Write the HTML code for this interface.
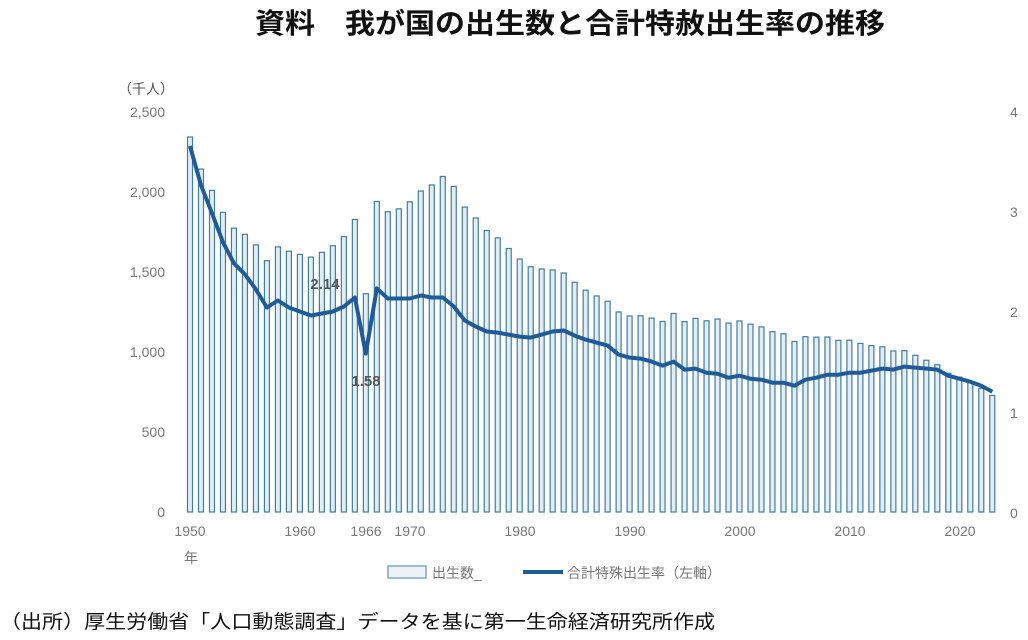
<!DOCTYPE html>
<html><head><meta charset="utf-8"><style>
body{margin:0;background:#fff;width:1028px;height:635px;overflow:hidden;font-family:"Liberation Sans","Noto Sans CJK JP",sans-serif}
</style></head><body>
<svg id="s" width="1028" height="635" xmlns="http://www.w3.org/2000/svg" font-family="Liberation Sans, Noto Sans CJK JP, sans-serif">
<text x="570" y="33" font-size="28" text-anchor="middle" fill="#111" font-weight="bold" textLength="630" lengthAdjust="spacingAndGlyphs">資料　我が国の出生数と合計特赦出生率の推移</text>
<text x="118" y="94" font-size="14" fill="#555">（千人）</text>
<g font-size="14" fill="#777" text-anchor="end">
<text x="165" y="117">2,500</text><text x="165" y="197">2,000</text><text x="165" y="277">1,500</text>
<text x="165" y="357">1,000</text><text x="165" y="437">500</text><text x="165" y="517">0</text>
</g>
<g font-size="14" fill="#777">
<text x="1010" y="117">4</text><text x="1010" y="217">3</text><text x="1010" y="317">2</text>
<text x="1010" y="418">1</text><text x="1010" y="518">0</text>
</g>
<g font-size="14" fill="#777" text-anchor="middle">
<text x="190" y="536">1950</text><text x="300" y="536">1960</text><text x="366" y="536">1966</text>
<text x="410" y="536">1970</text><text x="520" y="536">1980</text><text x="630" y="536">1990</text>
<text x="740" y="536">2000</text><text x="850" y="536">2010</text><text x="960" y="536">2020</text>
<text x="191" y="563">年</text>
</g>
<g id="bars"></g>
<polyline id="ln" fill="none" stroke="#1f5b99" stroke-width="4" stroke-linejoin="round"/>
<text x="325" y="289" font-size="15" font-weight="bold" fill="#555" text-anchor="middle">2.14</text>
<text x="366" y="386" font-size="15" font-weight="bold" fill="#555" text-anchor="middle">1.58</text>
<rect x="388" y="566" width="38" height="12" fill="#eef2f4" stroke="#7fa8c0" stroke-width="1.5"/>
<text x="432" y="578" font-size="14" fill="#777">出生数_</text>
<line x1="523" y1="572" x2="563" y2="572" stroke="#1f5b99" stroke-width="4"/>
<text x="567" y="578" font-size="14" fill="#777">合計特殊出生率（左軸）</text>
<text x="0" y="628" font-size="19" fill="#111" textLength="715" lengthAdjust="spacingAndGlyphs">（出所）厚生労働省「人口動態調査」データを基に第一生命経済研究所作成</text>
</svg>
<script>
var b=[2338,2138,2005,1868,1770,1731,1665,1567,1653,1626,1606,1589,1619,1660,1717,1824,1361,1936,1872,1890,1934,2001,2039,2092,2030,1901,1833,1755,1709,1643,1577,1529,1515,1509,1490,1432,1383,1347,1314,1247,1222,1223,1209,1188,1238,1187,1207,1192,1203,1178,1191,1171,1154,1124,1111,1063,1093,1090,1091,1070,1071,1051,1037,1030,1004,1006,977,946,918,865,841,812,771,727];
var r=[3.65,3.26,2.98,2.69,2.48,2.37,2.22,2.04,2.11,2.04,2.00,1.96,1.98,2.00,2.05,2.14,1.58,2.23,2.13,2.13,2.13,2.16,2.14,2.14,2.05,1.91,1.85,1.80,1.79,1.77,1.75,1.74,1.77,1.80,1.81,1.76,1.72,1.69,1.66,1.57,1.54,1.53,1.50,1.46,1.50,1.42,1.43,1.39,1.38,1.34,1.36,1.33,1.32,1.29,1.29,1.26,1.32,1.34,1.37,1.37,1.39,1.39,1.41,1.43,1.42,1.45,1.44,1.43,1.42,1.36,1.33,1.30,1.26,1.20];
var ns="http://www.w3.org/2000/svg",g=document.getElementById("bars"),pts=[];
for(var i=0;i<b.length;i++){var x=190+i*10.99,y=512-b[i]*401/2500;
var e=document.createElementNS(ns,"rect");e.setAttribute("x",x-2.5);e.setAttribute("y",y);e.setAttribute("width",5);e.setAttribute("height",512-y);
e.setAttribute("fill","#e3edf2");e.setAttribute("stroke","#3f7ea3");e.setAttribute("stroke-width","1.2");g.appendChild(e);
pts.push(x.toFixed(1)+","+(512-r[i]*100.25).toFixed(1));}
document.getElementById("ln").setAttribute("points",pts.join(" "));
</script>
</body></html>
